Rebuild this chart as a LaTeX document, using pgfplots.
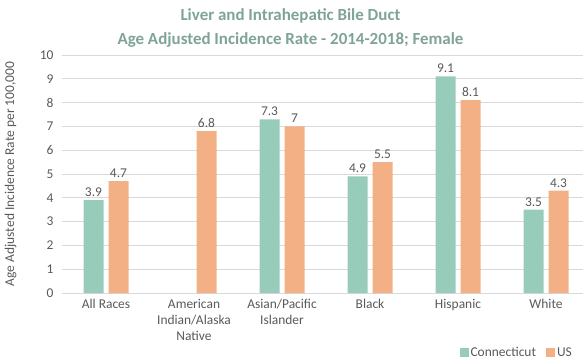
\documentclass[border=0pt]{standalone}
\usepackage{pgfplots}
\pgfplotsset{compat=1.18}
\usepackage{fontspec}
\setmainfont{Carlito}
\definecolor{ct}{HTML}{97CBBA}
\definecolor{us}{HTML}{F2B084}
\definecolor{ttl}{HTML}{7FA398}
\definecolor{txt}{HTML}{595959}
\definecolor{grd}{HTML}{D9D9D9}
\begin{document}
\begin{tikzpicture}
\useasboundingbox (0,0) rectangle (587bp,362bp);
\begin{axis}[
  at={(62bp,69bp)}, anchor=south west,
  scale only axis, width=521bp, height=238bp,
  ymin=0, ymax=10, ytick={0,1,...,10},
  xmin=-0.5, xmax=5.42,
  xtick={0,1,2,3,4,5},
  xticklabels={All Races, {American\\Indian/Alaska\\Native}, {Asian/Pacific\\Islander}, Black, Hispanic, White},
  xticklabel style={align=center, font=\fontsize{13.5}{16}\selectfont, text=txt, yshift=-3bp},
  yticklabel style={font=\fontsize{13.5}{15}\selectfont, text=txt, xshift=-5bp},
  /pgf/number format/assume math mode=true,
  axis x line*=bottom, axis y line*=left,
  x axis line style={grd, line width=0.8pt, -},
  y axis line style={draw=none},
  major tick length=0pt,
  ymajorgrids, grid style={grd, line width=0.8pt},
  ylabel={Age Adjusted Incidence Rate per 100,000},
  ylabel style={font=\fontsize{13.5}{15}\selectfont, text=txt, at={(-42bp,0.5)}},
  title={Liver and Intrahepatic Bile Duct\\Age Adjusted Incidence Rate - 2014-2018; Female},
  title style={align=center, font=\fontsize{17}{24}\selectfont\bfseries, text=ttl, at={(0.5,1)}, anchor=south, xshift=-32bp, yshift=-2bp},
  ybar, bar width=20bp,
  nodes near coords,
  every node near coord/.append style={font=\fontsize{13.5}{15}\selectfont, text=txt},
  legend style={at={(1,0)}, anchor=north east, yshift=-50bp, xshift=-6bp, draw=none, legend columns=2, font=\fontsize{13.5}{15}\selectfont, text=txt, /tikz/every even column/.append style={column sep=8bp}},
  legend image code/.code={\fill[#1] (0bp,-4.5bp) rectangle (9bp,4.5bp);},
  clip=false,
]
\addplot[fill=ct, draw=none, bar shift=-12.5bp] coordinates {(0,3.9) (2,7.3) (3,4.9) (4,9.1) (5,3.5)};
\addplot[fill=us, draw=none, bar shift=12.5bp] coordinates {(0,4.7) (1,6.8) (2,7) (3,5.5) (4,8.1) (5,4.3)};
\legend{Connecticut, US}
\end{axis}
\end{tikzpicture}
\end{document}
